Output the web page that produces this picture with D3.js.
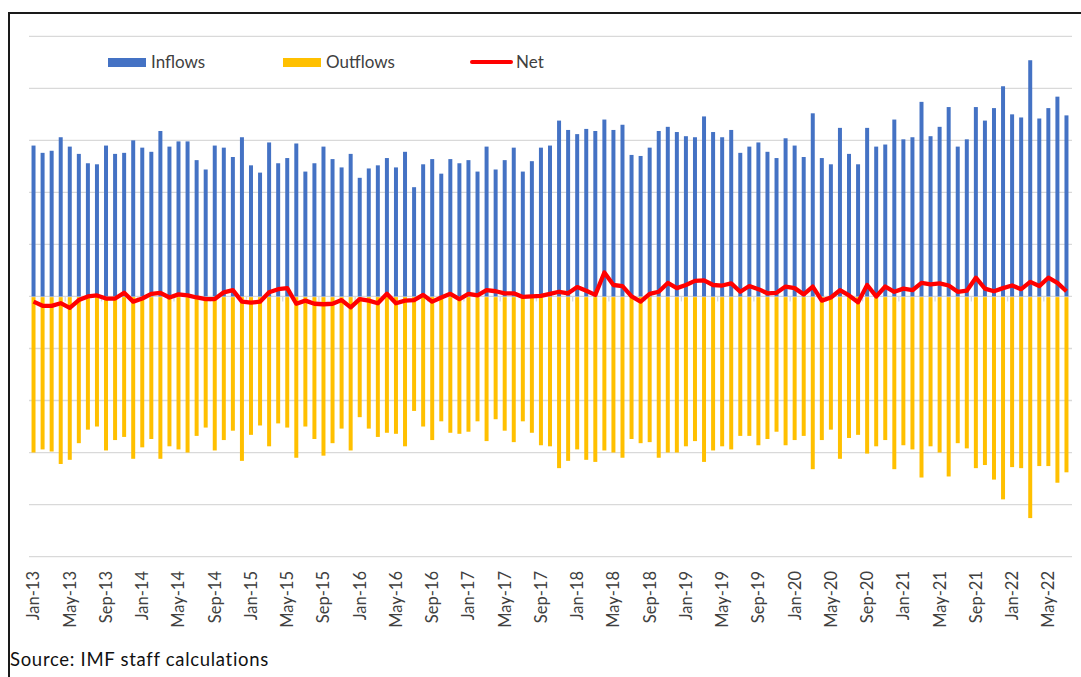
<!DOCTYPE html>
<html>
<head>
<meta charset="utf-8">
<script src="https://cdn.jsdelivr.net/npm/d3@7"></script>
<style>
  body { margin: 0; background: #fff; }
  svg { display: block; font-family: Lato, "Open Sans", sans-serif; }
</style>
</head>
<body>
<div id="chart"></div>
<script>
// monthly flows, Jan-13 .. Jul-22
const months = d3.timeMonths(new Date(2013, 0, 1), new Date(2022, 7, 1));
const fmtMonth = d3.timeFormat("%b-%y");

const inflows = [
  145, 138, 140, 153, 144, 137, 128, 127, 145, 137, 138, 150,
  143, 139, 159, 144, 149, 149, 131, 122, 145, 143, 134, 153,
  126, 119, 148, 128, 133, 147, 120, 128, 144, 132, 124, 137,
  114, 123, 126, 133, 124, 139, 105, 127, 132, 118, 132, 128,
  131, 120, 144, 122, 131, 143, 120, 130, 143, 145, 169, 160,
  156, 161, 159, 170, 160, 165, 136, 135, 143, 159, 163, 158,
  154, 153, 173, 158, 153, 160, 138, 144, 148, 139, 133, 152,
  145, 134, 176, 133, 127, 162, 137, 127, 162, 144, 146, 170,
  151, 153, 187, 154, 163, 182, 144, 151, 182, 169, 181, 202,
  175, 172, 227, 171, 181, 192, 174
];

const outflows = [
  -150, -147, -149, -161, -157, -141, -128, -125, -148, -138, -135, -156,
  -145, -137, -156, -144, -147, -150, -134, -126, -148, -138, -129, -158,
  -133, -124, -144, -122, -126, -155, -125, -137, -153, -141, -127, -148,
  -116, -127, -135, -131, -132, -144, -110, -125, -138, -120, -131, -132,
  -130, -120, -139, -118, -129, -140, -120, -131, -143, -144, -165, -158,
  -147, -157, -159, -148, -150, -155, -137, -141, -140, -155, -150, -150,
  -144, -139, -159, -148, -144, -147, -134, -134, -143, -137, -130, -143,
  -138, -134, -166, -138, -128, -156, -136, -133, -151, -144, -138, -166,
  -143, -147, -174, -144, -150, -173, -141, -146, -165, -162, -176, -195,
  -164, -165, -213, -163, -163, -179, -169
];

const net = [
  -5, -9, -9, -6.5, -11, -3.5, 0, 1, -2, -2, 3.5, -5,
  -2, 2.5, 3.5, -1, 2, 1, -1, -2.5, -2.5, 4, 6, -5,
  -6, -5, 4, 7, 8, -7, -4, -7, -7.5, -7, -3.5, -10.5,
  -2.5, -4, -6.5, 2.5, -6.5, -4, -3.5, 1.5, -5, -1, 2.5, -2.5,
  2.5, 1, 6, 5, 3, 3, -0.5, 0, 0.5, 2.5, 4.5, 3,
  9, 5.5, 1.5, 23, 11, 10, 0, -5, 2.5, 4.5, 13, 8,
  11, 15, 15.5, 11, 10.5, 12.5, 4.5, 10, 7, 3, 3.5, 9.5,
  8, 2, 9.5, -4, -1, 6, 1, -5.5, 11, 0, 9.5, 4.5,
  7.5, 6, 13, 11.5, 12.5, 10.5, 4.5, 5.5, 18, 7.5, 5, 8,
  10.5, 7, 14, 10, 18, 13, 5
];

const tickLabels = [
  "Jan-13", "May-13", "Sep-13", "Jan-14", "May-14", "Sep-14", "Jan-15", "May-15",
  "Sep-15", "Jan-16", "May-16", "Sep-16", "Jan-17", "May-17", "Sep-17", "Jan-18",
  "May-18", "Sep-18", "Jan-19", "May-19", "Sep-19", "Jan-20", "May-20", "Sep-20",
  "Jan-21", "May-21", "Sep-21", "Jan-22", "May-22"
];

const yTicks = [-250, -200, -150, -100, -50, 0, 50, 100, 150, 200, 250];

const seriesNames = ["Inflows", "Outflows", "Net"];
const colors = { Inflows: "#4472C4", Outflows: "#FFC000", Net: "#FF0000" };

const W = 1081, H = 677;

const svg = d3.select("#chart")
    .append("svg")
    .attr("width", W)
    .attr("height", H);

const labels = months.map(fmtMonth);

const x = d3.scaleBand()
    .domain(labels)
    .range([29, 1071])
    .paddingInner(0.56)
    .paddingOuter(0.28);

const y = d3.scaleLinear()
    .domain([-250, 250])
    .range([556.6, 36.3]);

// frame (top + left border of the pasted figure)
svg.append("line")
    .attr("x1", 8).attr("x2", W)
    .attr("y1", 13).attr("y2", 13)
    .attr("stroke", "#1a1a1a").attr("stroke-width", 2);
svg.append("line")
    .attr("x1", 9).attr("x2", 9)
    .attr("y1", 12).attr("y2", H)
    .attr("stroke", "#1a1a1a").attr("stroke-width", 2);

// gridlines
svg.append("g")
    .selectAll("line")
    .data(yTicks)
    .enter()
    .append("line")
    .attr("x1", 29).attr("x2", 1072)
    .attr("y1", d => y(d)).attr("y2", d => y(d))
    .attr("stroke", "#d9d9d9")
    .attr("stroke-width", 1.3);

// small category tick marks between months, every 4 months
const step = x.step();
svg.append("g")
    .selectAll("line")
    .data(labels.filter((d, i) => i % 4 === 0 && i > 0))
    .enter()
    .append("line")
    .attr("x1", d => x(d) - (step - x.bandwidth()) / 2)
    .attr("x2", d => x(d) - (step - x.bandwidth()) / 2)
    .attr("y1", y(0)).attr("y2", y(0) + 5)
    .attr("stroke", "#d9d9d9")
    .attr("stroke-width", 1.3);

// bars
svg.append("g")
    .selectAll("rect")
    .data(inflows)
    .enter()
    .append("rect")
    .attr("x", (d, i) => x(labels[i]))
    .attr("y", d => y(d))
    .attr("width", x.bandwidth())
    .attr("height", d => y(0) - y(d))
    .attr("fill", colors.Inflows);

svg.append("g")
    .selectAll("rect")
    .data(outflows)
    .enter()
    .append("rect")
    .attr("x", (d, i) => x(labels[i]))
    .attr("y", y(0) + 0.7)
    .attr("width", x.bandwidth())
    .attr("height", d => y(d) - y(0) - 0.7)
    .attr("fill", colors.Outflows);

// net line
const line = d3.line()
    .x((d, i) => x(labels[i]) + x.bandwidth() / 2)
    .y(d => y(d));

svg.append("path")
    .datum(net)
    .attr("d", line)
    .attr("fill", "none")
    .attr("stroke", colors.Net)
    .attr("stroke-width", 4.3)
    .attr("stroke-linejoin", "round");

// x axis labels
const xAxis = svg.append("g")
    .attr("transform", "translate(0,571)")
    .call(d3.axisBottom(x)
        .tickValues(tickLabels)
        .tickSize(0)
        .tickPadding(0));
xAxis.select(".domain").remove();
xAxis.selectAll("text")
    .attr("transform", "rotate(-90)")
    .attr("x", 0)
    .attr("y", 0)
    .attr("dy", "0.36em")
    .style("text-anchor", "end")
    .style("font-family", "Lato, 'Open Sans', sans-serif")
    .style("font-size", "16.5px")
    .style("fill", "#404040");

// legend
const legend = svg.append("g");
const legendX = { Inflows: 108, Outflows: 283, Net: 471 };

["Inflows", "Outflows"].forEach(k => {
    legend.append("rect")
        .attr("x", legendX[k])
        .attr("y", 58)
        .attr("width", 38)
        .attr("height", 9)
        .attr("fill", colors[k]);
});
legend.append("line")
    .attr("x1", legendX.Net + 1).attr("x2", legendX.Net + 40)
    .attr("y1", 62).attr("y2", 62)
    .attr("stroke", colors.Net)
    .attr("stroke-width", 4)
    .attr("stroke-linecap", "round");

seriesNames.forEach(k => {
    legend.append("text")
        .attr("x", legendX[k] + (k === "Net" ? 45 : 43))
        .attr("y", 67.5)
        .style("font-size", "17px")
        .style("fill", "#404040")
        .text(k);
});

// source note
svg.append("text")
    .attr("x", 10)
    .attr("y", 665.5)
    .style("font-size", "18.5px")
    .style("letter-spacing", "0.7px")
    .style("fill", "#111")
    .text("Source: IMF staff calculations");
</script>
</body>
</html>
